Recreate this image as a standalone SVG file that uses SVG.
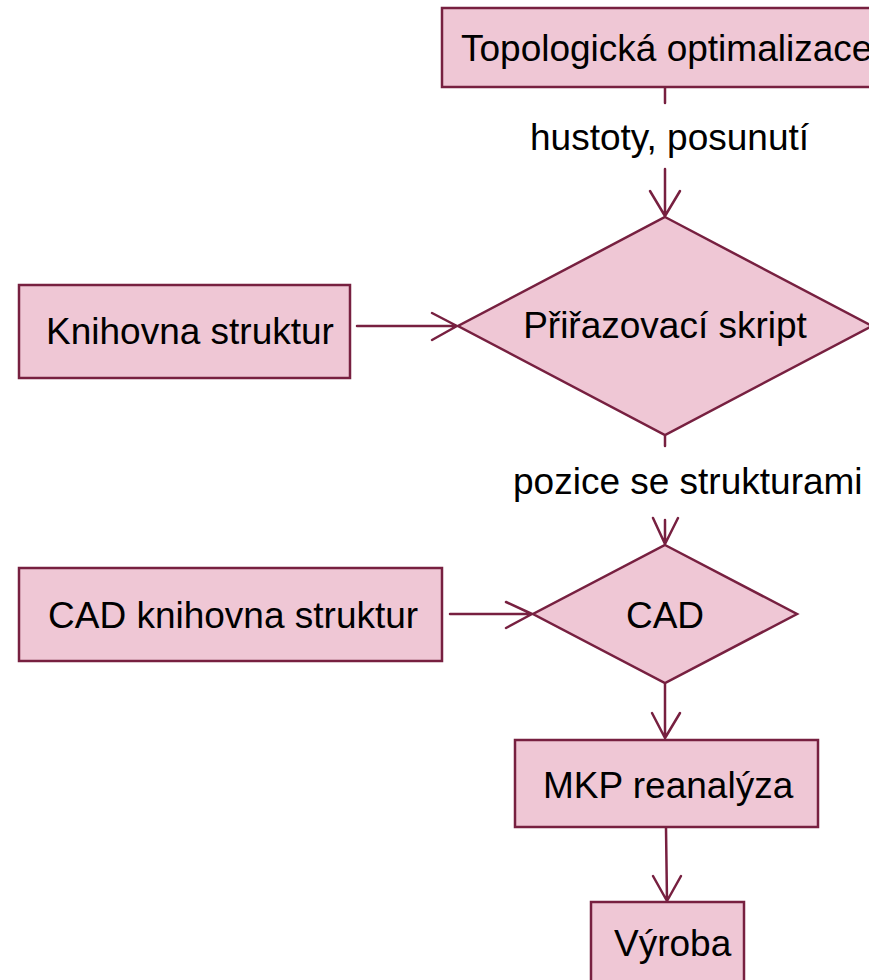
<svg xmlns="http://www.w3.org/2000/svg" width="869" height="980" viewBox="0 0 869 980">
<style>
.n{fill:#EFC7D5;stroke:#772040;stroke-width:2.5}
.c{fill:none;stroke:#772040;stroke-width:2.5;stroke-linecap:round;stroke-linejoin:round}
text{font-family:"Liberation Sans",Arial,sans-serif;font-size:37px;fill:#000}
</style>
<rect width="869" height="980" fill="#fff"/>
<g id="connectors">
<path class="c" d="M665,88 V103 M665,169 V216 M650,191 L665,216 L680,191"/>
<path class="c" d="M357,326 H457 M432,313 L457,326 L432,340"/>
<path class="c" d="M665,436 V446 M665,520 V544 M653,518 L665,544 L678,518"/>
<path class="c" d="M450,614 H532 M506,602 L532,614 L506,628"/>
<path class="c" d="M665,684 V738 M652,713 L665,738 L680,713"/>
<path class="c" d="M666,828 L667,901 M653,876 L667,901 L681,876"/>
<text x="530" y="150">hustoty, posunutí</text>
<text x="513" y="494">pozice se strukturami</text>
</g>
<g id="topo">
<rect class="n" x="442" y="8" width="446" height="79"/>
<text x="461" y="61">Topologická optimalizace</text>
</g>
<g id="knihovna">
<rect class="n" x="19" y="285" width="331" height="93"/>
<text x="46" y="344">Knihovna struktur</text>
</g>
<g id="skript">
<polygon class="n" points="665,217 872,326 665,435 458,326"/>
<text x="665" y="338" text-anchor="middle">Přiřazovací skript</text>
</g>
<g id="cadlib">
<rect class="n" x="19" y="568" width="423" height="93"/>
<text x="48" y="628">CAD knihovna struktur</text>
</g>
<g id="cad">
<polygon class="n" points="665,545 797,614 665,683 533,614"/>
<text x="665" y="628" text-anchor="middle">CAD</text>
</g>
<g id="mkp">
<rect class="n" x="515" y="740" width="303" height="87"/>
<text x="543" y="798">MKP reanalýza</text>
</g>
<g id="vyroba">
<rect class="n" x="591" y="902" width="153" height="90"/>
<text x="614" y="956">Výroba</text>
</g>
</svg>
